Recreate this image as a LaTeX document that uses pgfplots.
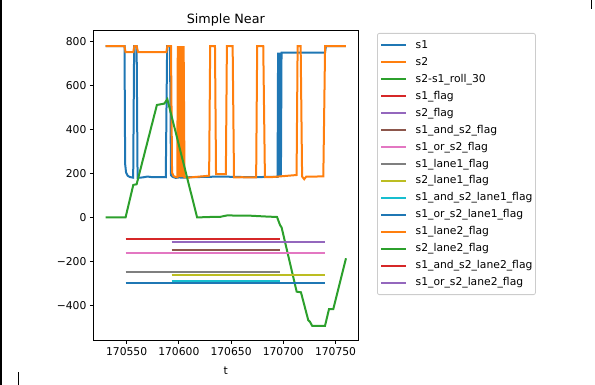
\documentclass[border=0pt]{standalone}
\usepackage{fontspec}
\setmainfont{DejaVu Sans}
\usepackage{pgfplots}
\pgfplotsset{compat=1.18}

% matplotlib tab10 palette
\definecolor{C0}{HTML}{1F77B4}
\definecolor{C1}{HTML}{FF7F0E}
\definecolor{C2}{HTML}{2CA02C}
\definecolor{C3}{HTML}{D62728}
\definecolor{C4}{HTML}{9467BD}
\definecolor{C5}{HTML}{8C564B}
\definecolor{C6}{HTML}{E377C2}
\definecolor{C7}{HTML}{7F7F7F}
\definecolor{C8}{HTML}{BCBD22}
\definecolor{C9}{HTML}{17BECF}
\definecolor{legframe}{HTML}{CCCCCC}

\tikzset{mpl/.style={line width=2bp}}

\begin{document}
\begin{tikzpicture}
\path[use as bounding box] (0,0) rectangle (595bp,385bp);
\draw[black, line width=1.5bp] (0.75bp,0) -- (0.75bp,385bp);
\draw[black, line width=1bp] (591bp,385bp) -- (591bp,376bp);
\draw[black, line width=1bp] (18bp,0) -- (18bp,13bp);
\begin{axis}[
  at={(93.7bp,45bp)}, anchor=south west,
  scale only axis, width=264.3bp, height=309.3bp,
  xmin=170518.5, xmax=170771.5, ymin=-558, ymax=850,
  axis line style={black, line width=0.85bp},
  tick align=outside, major tick length=3.8bp,
  tick style={black, line width=0.85bp},
  xtick pos=bottom, ytick pos=left,
  xtick={170550,170600,170650,170700,170750},
  xticklabels={170550,170600,170650,170700,170750},
  ytick={-400,-200,0,200,400,600,800},
  yticklabels={−400,−200,0,200,400,600,800},
  scaled x ticks=false,
  ticklabel style={font=\fontsize{10.8}{13}\selectfont},
  title={Simple Near},
  title style={font=\fontsize{12.8}{15}\selectfont, inner sep=0pt, anchor=base, at={(axis description cs:0.5,1)}, yshift=1.5bp},
  xlabel={t},
  xlabel style={font=\fontsize{10.8}{13}\selectfont, inner sep=0pt, anchor=base, at={(axis description cs:0.5,0)}, yshift=-34bp},
  legend image code/.code={\draw[#1, line width=2bp] (0bp,0bp) -- (24.3bp,0bp);},
  legend cell align=left,
  legend style={
    at={(axis description cs:1.0719,0.9926)}, anchor=north west,
    draw=legframe, line width=0.8bp, rounded corners=2bp,
    font=\fontsize{10.8}{13}\selectfont,
    inner xsep=3bp, inner ysep=3.5bp,
    row sep=0bp, column sep=9bp,
    nodes={inner xsep=0bp, inner ysep=2.975bp, text height=8.5bp, text depth=2.5bp},
  },
]
% s1
\addplot[C0, mpl] coordinates {
(170530,780) (170548,780) (170548.6,243) (170549.5,204) (170551,190) (170553,184)
(170556.3,181) (170557.2,780) (170559.6,780) (170560.5,180) (170565,182) (170570,186)
(170575,183) (170580,184) (170587.5,183) (170588.8,780) (170591.5,780) (170592.5,192)
(170594,185) (170597,180) (170600,182) (170605,181) (170610,183) (170620,184)
(170630,185) (170640,186) (170650,185) (170660,184) (170670,183) (170680,184)
(170690,185) (170694.5,185) (170695,750) (170695.5,185) (170696,750) (170696.5,185)
(170697.2,750) (170697.7,190) (170698.3,750) (170710,750) (170720,750) (170730,750)
(170739.9,750) (170740.8,780) (170760,780)
};
\addlegendentry{s1}
% s2
\addplot[C1, mpl] coordinates {
(170530,780) (170548,780) (170549,752) (170556.4,752) (170557.4,780) (170559.6,780)
(170561,752) (170588,752) (170589,780) (170592.5,780) (170593.5,204) (170595,188)
(170597,184) (170598.5,183) (170599,780) (170599.6,184) (170600.3,780) (170601.2,184)
(170601.8,780) (170602.4,184) (170603.1,780) (170603.7,184) (170604.6,780) (170605.4,183)
(170607,186) (170609,181) (170615,184) (170620,186)
(170625,188) (170629,190) (170630,780) (170634.6,780) (170635.6,197) (170645,197)
(170646,780) (170651.5,780) (170652.8,182) (170660,183) (170674,182) (170675,780)
(170680.8,780) (170682.4,183) (170690,184) (170695,186) (170700,188) (170705,190)
(170712.7,193) (170713.7,780) (170716.6,780) (170718,186) (170720,174) (170722,186)
(170730,186) (170738.3,187) (170740,780) (170760,780)
};
\addlegendentry{s2}
% rolling difference
\addplot[C2, mpl] coordinates {
(170530,0) (170549,0) (170556.4,148) (170559.6,151) (170579,512) (170586,518)
(170589,538) (170617.5,0) (170630,2) (170640,3) (170646,9) (170668,8) (170684,4)
(170694,2) (170696.8,-34) (170698.4,-46) (170712.8,-338) (170716.9,-341)
(170723.9,-468) (170725.5,-475) (170727.7,-494) (170739.9,-494) (170743.7,-418)
(170747.8,-418) (170760,-186)
};
\addlegendentry{s2-s1\_roll\_30}
% flags
\addplot[C3, mpl] coordinates {(170549,-100) (170697,-100)};
\addlegendentry{s1\_flag}
\addplot[C4, mpl] coordinates {(170593,-110) (170740,-110)};
\addlegendentry{s2\_flag}
\addplot[C5, mpl] coordinates {(170593,-150) (170697,-150)};
\addlegendentry{s1\_and\_s2\_flag}
\addplot[C6, mpl] coordinates {(170549,-160) (170740,-160)};
\addlegendentry{s1\_or\_s2\_flag}
\addplot[C7, mpl] coordinates {(170549,-250) (170697,-250)};
\addlegendentry{s1\_lane1\_flag}
\addplot[C8, mpl] coordinates {(170593,-260) (170740,-260)};
\addlegendentry{s2\_lane1\_flag}
\addplot[C9, mpl] coordinates {(170593,-290) (170697,-290)};
\addlegendentry{s1\_and\_s2\_lane1\_flag}
\addplot[C0, mpl] coordinates {(170549,-300) (170740,-300)};
\addlegendentry{s1\_or\_s2\_lane1\_flag}
% lane 2 flags carry no set values
\addlegendimage{C1, mpl}
\addlegendentry{s1\_lane2\_flag}
\addlegendimage{C2, mpl}
\addlegendentry{s2\_lane2\_flag}
\addlegendimage{C3, mpl}
\addlegendentry{s1\_and\_s2\_lane2\_flag}
\addlegendimage{C4, mpl}
\addlegendentry{s1\_or\_s2\_lane2\_flag}
\end{axis}
\end{tikzpicture}
\end{document}
